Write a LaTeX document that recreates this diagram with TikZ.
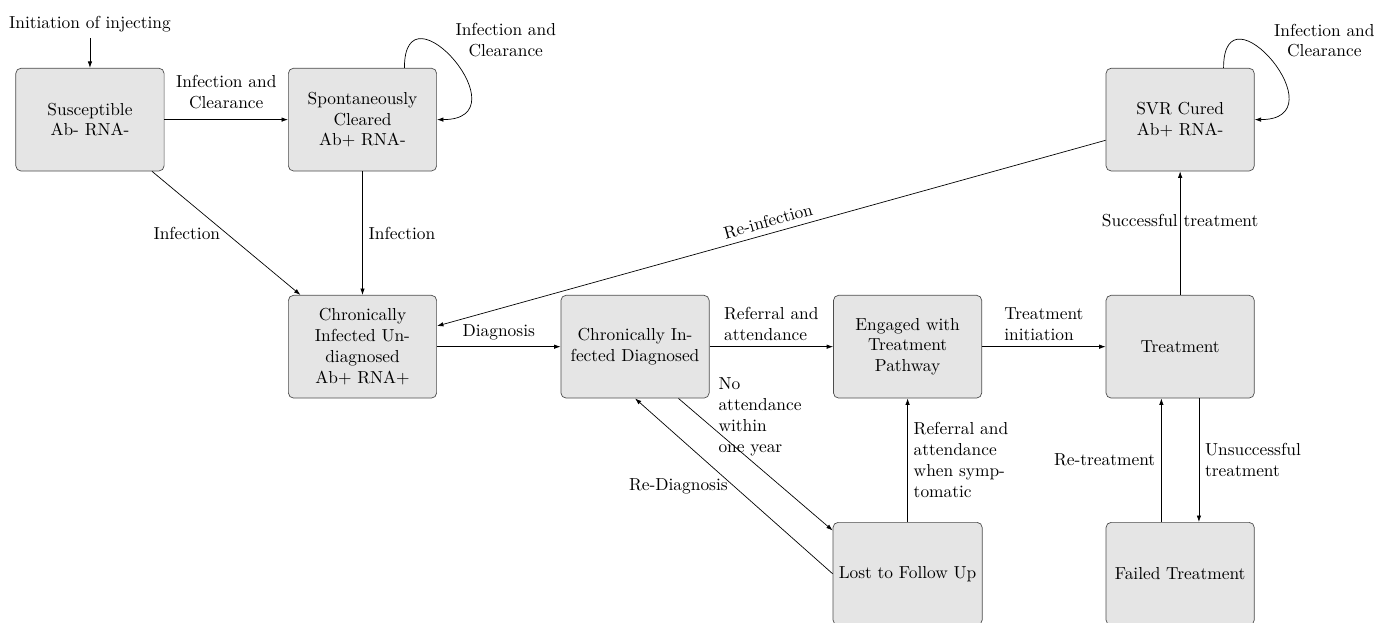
\documentclass[tikz,border=0pt]{standalone}
\usepackage{amsmath}
\usepackage{tikz}
\usetikzlibrary{arrows.meta}
\usetikzlibrary{positioning}

\begin{document}
\begin{tikzpicture}[
    state/.style={draw=black!70, fill=gray!20, rounded corners=3pt, minimum width=3cm, minimum height=2.08cm, align=center},
    node distance=2.5cm,   % gap between the boxes
    >={Latex[length=1.3mm, width=0.9mm]}
]
    \useasboundingbox (-1.82,-10.17) rectangle (26.12,2.42);

    % Define the states
    \node[state] (susc) {Susceptible\\Ab- RNA-};
    \node[state, right=of susc] (cleared) {Spontaneously\\Cleared\\Ab+ RNA-};
    \node[state, below=of cleared] (undiag) {Chronically\\Infected Un-\\diagnosed\\Ab+ RNA+};
    \node[state, right=of undiag] (diag) {Chronically In-\\fected Diagnosed};
    \node[state, right=of diag] (engaged) {Engaged with\\Treatment\\Pathway};
    \node[state, right=of engaged] (treat) {Treatment};
    \node[state, above=of treat] (svr) {SVR Cured\\Ab+ RNA-};
    \node[state, below=of engaged] (lost) {Lost to Follow Up};
    \node[state, below=of treat] (failed) {Failed Treatment};
    \node[above=0.6cm of susc] (init) {Initiation of injecting};

    % Transitions
    \draw[->] (init) -- (susc);
    \draw[->] (susc) -- node[above, yshift=0.1cm, align=center] {Infection and\\Clearance} (cleared);
    \draw[->] (susc) -- node[left] {Infection} (undiag);
    \draw[->] (cleared) -- node[right] {Infection} (undiag);
    \draw[->] (cleared.51) to[out=90, in=0, looseness=3.7]
        node[pos=0.3, anchor=west, xshift=0.43cm, align=center] {Infection and\\Clearance} (cleared.east);
    \draw[->] (undiag) -- node[above] {Diagnosis} (diag);
    \draw[->] (diag) -- node[above, align=left] {Referral and\\attendance} (engaged);
    \draw[->] (engaged) -- node[above, align=left] {Treatment\\initiation} (treat);
    \draw[->] (treat) -- node[above] {Successful treatment} (svr);
    \draw[->] (svr.50) to[out=90, in=0, looseness=3.7]
        node[pos=0.3, anchor=west, xshift=0.43cm, align=center] {Infection and\\Clearance} (svr.east);
    \draw[->] (svr) -- node[above, sloped] {Re-infection} (undiag);
    \draw[->] (diag.310) -- node[pos=0.14, anchor=west, xshift=0.25cm, align=left] {No\\attendance\\within\\one year} (lost.150);
    \draw[->] (lost.west) -- node[left] {Re-Diagnosis} (diag.south);
    \draw[->] (lost) -- node[right, align=left] {Referral and\\attendance\\when symp-\\tomatic} (engaged);
    \draw[->] ([xshift=0.38cm]treat.south) -- node[right, align=left] {Unsuccessful\\treatment} ([xshift=0.38cm]failed.north);
    \draw[->] ([xshift=-0.38cm]failed.north) -- node[left] {Re-treatment} ([xshift=-0.38cm]treat.south);

\end{tikzpicture}
\end{document}
